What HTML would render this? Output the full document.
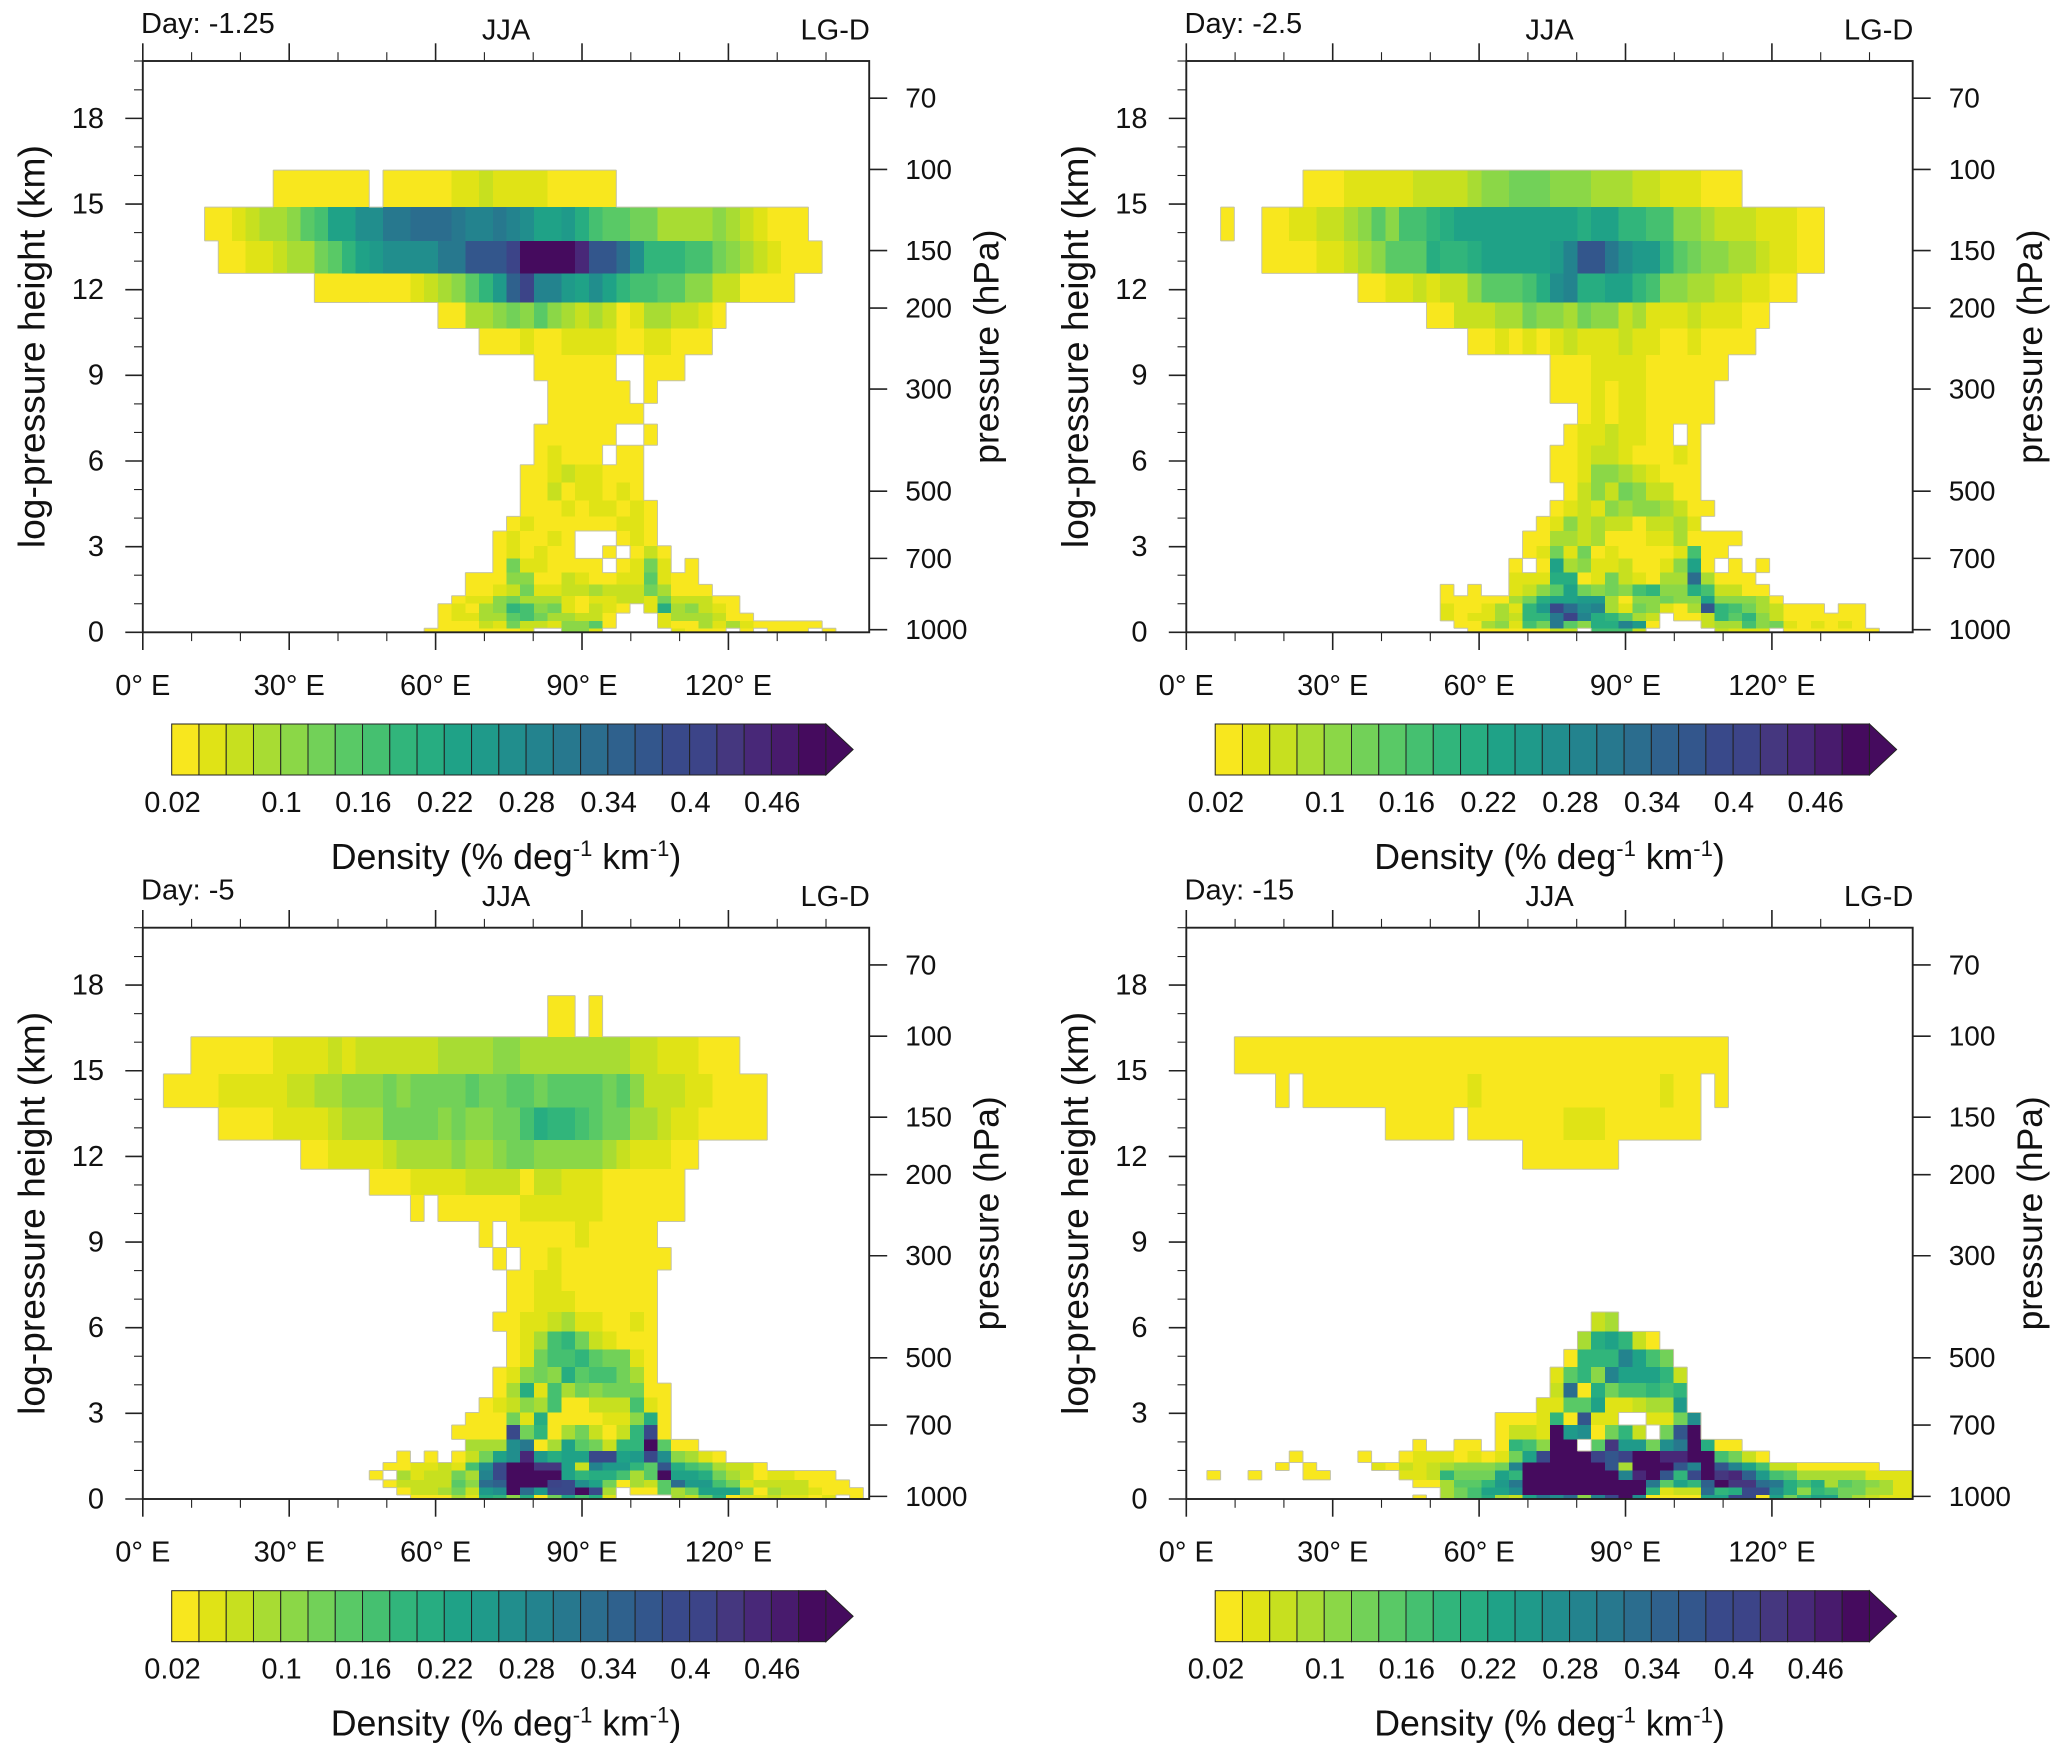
<!DOCTYPE html>
<html lang="en">
<head>
<meta charset="utf-8">
<title>Density by longitude and height, JJA</title>
<style>
html,body{margin:0;padding:0;background:#fff;}
svg{display:block;}
text{font-family:"Liberation Sans",sans-serif;fill:#111;}
</style>
</head>
<body>
<svg id="figure" xmlns="http://www.w3.org/2000/svg" width="2067" height="1756" viewBox="0 0 2067 1756"></svg>
<script>
// ---- shared categories and tick labels ----
const rowEdgesKm = [17.63,16.19,14.89,13.71,12.57,11.55,10.64,9.72,8.81,8.02,7.29,6.55,5.87,5.24,4.62,4.06,3.55,3.03,2.59,2.09,1.68,1.28,1.00,0.67,0.40,0.14,0];
const gridStepDeg = 2.8125;
const lonMajorTicks = [0,30,60,90,120];
const lonMinorTicks = [10,20,40,50,70,80,100,110,130,140];
const kmMajorTicks = [0,3,6,9,12,15,18];
const kmMinorTicks = [1,2,4,5,7,8,10,11,13,14,16,17,19];
const pressureTicks = [70,100,150,200,300,500,700,1000];
const colorbarTickValues = [0.02,0.1,0.16,0.22,0.28,0.34,0.4,0.46];
const colorbarTickLabels = ['0.02','0.1','0.16','0.22','0.28','0.34','0.4','0.46'];
const levelColors = ['#f8e71e','#e0e316','#c7e01f','#a8dc33','#8bd747','#72d158','#59c966','#45c070','#31b57b','#27ad81','#1fa287','#1f9a8a','#218e8d','#23838e','#27788e','#2b6d8e','#2f618d','#33568c','#39498a','#3c4488','#45377f','#482878','#481b6d','#450b5e'];
const panelDays = ['Day: -1.25','Day: -2.5','Day: -5','Day: -15'];

// ---- density values, in units of 0.01 % deg-1 km-1; one row per height level (top first), one entry per longitude cell ----
const densityDayM125 = [
[],
[0,0,0,0,0,0,0,0,0,0, 3,3,3,3,3,3,3,0,3,3, 3,3,3,5,5,7,5,5,5,5, 3,3,3,3,3],
[0,0,0,0,0,3,3,5,7,9, 9,11,15,17,23,23,27,27,31,31, 33,33,33,31,29,29,31,29,27,23, 23,25,21,17,15,15,13,13,9,9, 9,9,11,9,7,5,3,3,3],
[0,0,0,0,0,0,3,3,5,5, 7,9,9,13,15,19,23,25,27,27, 27,27,31,31,37,37,37,41,49,49, 49,49,45,37,37,33,27,19,19,19, 17,17,13,11,9,7,5,3,3,3],
[0,0,0,0,0,0,0,0,0,0, 0,0,0,3,3,3,3,3,3,3, 5,7,9,11,15,19,25,35,41,29, 29,25,23,27,23,19,17,17,15,15, 11,11,7,7,3,3,3,3],
[0,0,0,0,0,0,0,0,0,0, 0,0,0,0,0,0,0,0,0,0, 0,0,3,3,9,9,11,13,11,15, 11,9,7,9,7,3,5,9,9,7, 7,5,3],
[0,0,0,0,0,0,0,0,0,0, 0,0,0,0,0,0,0,0,0,0, 0,0,0,0,0,3,3,3,5,3, 3,5,5,5,5,3,3,5,5,3, 3,3],
[0,0,0,0,0,0,0,0,0,0, 0,0,0,0,0,0,0,0,0,0, 0,0,0,0,0,0,0,0,0,3, 3,3,3,3,3,0,0,3,3,3],
[0,0,0,0,0,0,0,0,0,0, 0,0,0,0,0,0,0,0,0,0, 0,0,0,0,0,0,0,0,0,0, 3,3,3,3,3,3,0,3],
[0,0,0,0,0,0,0,0,0,0, 0,0,0,0,0,0,0,0,0,0, 0,0,0,0,0,0,0,0,0,0, 3,3,3,3,3,3,3],
[0,0,0,0,0,0,0,0,0,0, 0,0,0,0,0,0,0,0,0,0, 0,0,0,0,0,0,0,0,0,3, 3,3,3,3,3,0,0,3],
[0,0,0,0,0,0,0,0,0,0, 0,0,0,0,0,0,0,0,0,0, 0,0,0,0,0,0,0,0,0,3, 5,3,3,3,0,3,3],
[0,0,0,0,0,0,0,0,0,0, 0,0,0,0,0,0,0,0,0,0, 0,0,0,0,0,0,0,0,3,3, 5,7,5,5,3,3,3],
[0,0,0,0,0,0,0,0,0,0, 0,0,0,0,0,0,0,0,0,0, 0,0,0,0,0,0,0,0,3,3, 7,3,5,5,3,5,3],
[0,0,0,0,0,0,0,0,0,0, 0,0,0,0,0,0,0,0,0,0, 0,0,0,0,0,0,0,0,3,3, 3,5,3,5,5,3,5,3],
[0,0,0,0,0,0,0,0,0,0, 0,0,0,0,0,0,0,0,0,0, 0,0,0,0,0,0,0,3,5,3, 3,3,3,3,3,5,5,3],
[0,0,0,0,0,0,0,0,0,0, 0,0,0,0,0,0,0,0,0,0, 0,0,0,0,0,0,3,5,3,3, 5,3,0,0,0,3,5,3],
[0,0,0,0,0,0,0,0,0,0, 0,0,0,0,0,0,0,0,0,0, 0,0,0,0,0,0,3,5,3,5, 3,3,0,0,3,0,3,7,3],
[0,0,0,0,0,0,0,0,0,0, 0,0,0,0,0,0,0,0,0,0, 0,0,0,0,0,0,3,13,5,5, 3,3,3,3,0,3,5,13,5,0, 3],
[0,0,0,0,0,0,0,0,0,0, 0,0,0,0,0,0,0,0,0,0, 0,0,0,0,3,3,3,11,11,3, 3,7,5,3,3,5,5,15,5,3, 3],
[0,0,0,0,0,0,0,0,0,0, 0,0,0,0,0,0,0,0,0,0, 0,0,0,0,3,3,5,7,13,5, 5,7,7,9,7,7,7,13,9,3, 3,3],
[0,0,0,0,0,0,0,0,0,0, 0,0,0,0,0,0,0,0,0,0, 0,0,0,3,5,5,11,13,9,9, 9,5,3,5,5,7,7,5,13,7, 7,7,3,3],
[0,0,0,0,0,0,0,0,0,0, 0,0,0,0,0,0,0,0,0,0, 0,0,3,5,3,9,11,19,17,11, 13,5,3,7,5,3,0,5,21,9, 11,7,5,3],
[0,0,0,0,0,0,0,0,0,0, 0,0,0,0,0,0,0,0,0,0, 0,0,3,5,5,9,9,15,17,13, 9,9,7,7,3,0,0,0,5,9, 9,9,7,3,3],
[0,0,0,0,0,0,0,0,0,0, 0,0,0,0,0,0,0,0,0,0, 0,0,3,3,3,7,5,13,7,7, 5,11,11,15,3,0,0,0,5,3, 3,9,5,9,5,3,3,3,3,3],
[0,0,0,0,0,0,0,0,0,0, 0,0,0,0,0,0,0,0,0,0, 0,3,3,3,3,3,3,3,5,0, 0,11,11,5,0,0,0,0,0,5, 3,3,3,0,3,0,3,3,3,0, 3]
];
const densityDayM25 = [
[],
[0,0,0,0,0,0,0,0,0,3, 3,3,5,5,5,5,5,7,7,7, 7,9,11,11,13,13,13,11,11,11, 9,9,9,7,7,5,5,5,3,3, 3],
[0,0,0,3,0,0,3,3,5,5, 7,7,9,11,15,11,17,17,19,21, 23,23,23,23,23,23,23,23,23,21, 23,23,19,19,17,17,11,11,9,7, 7,7,5,5,5,3,3],
[0,0,0,0,0,0,3,3,3,3, 5,5,7,9,11,15,15,15,21,19, 19,21,23,23,23,23,23,25,29,37, 37,31,27,25,25,19,15,13,11,11, 9,9,7,5,5,3,3],
[0,0,0,0,0,0,0,0,0,0, 0,0,0,3,3,5,5,7,5,7, 7,11,15,15,15,17,21,27,29,21, 21,23,23,19,17,11,11,9,9,7, 7,5,5,3,3],
[0,0,0,0,0,0,0,0,0,0, 0,0,0,0,0,0,0,0,3,3, 7,7,7,9,9,13,11,11,9,13, 11,11,7,9,5,5,5,7,5,5, 5,3,3],
[0,0,0,0,0,0,0,0,0,0, 0,0,0,0,0,0,0,0,0,0, 0,3,3,5,3,5,3,5,7,5, 5,5,7,5,5,3,3,5,3,3, 3,3],
[0,0,0,0,0,0,0,0,0,0, 0,0,0,0,0,0,0,0,0,0, 0,0,0,0,0,0,0,3,3,3, 5,5,5,5,3,3,3,3,3,3],
[0,0,0,0,0,0,0,0,0,0, 0,0,0,0,0,0,0,0,0,0, 0,0,0,0,0,0,0,3,3,3, 5,3,5,5,3,3,3,3,3],
[0,0,0,0,0,0,0,0,0,0, 0,0,0,0,0,0,0,0,0,0, 0,0,0,0,0,0,0,0,0,3, 5,3,5,5,3,3,3,3,3],
[0,0,0,0,0,0,0,0,0,0, 0,0,0,0,0,0,0,0,0,0, 0,0,0,0,0,0,0,0,3,5, 5,7,5,5,3,3,0,3],
[0,0,0,0,0,0,0,0,0,0, 0,0,0,0,0,0,0,0,0,0, 0,0,0,0,0,0,0,3,3,5, 7,7,5,3,3,3,5,3],
[0,0,0,0,0,0,0,0,0,0, 0,0,0,0,0,0,0,0,0,0, 0,0,0,0,0,0,0,3,3,5, 11,11,9,7,5,3,3,3],
[0,0,0,0,0,0,0,0,0,0, 0,0,0,0,0,0,0,0,0,0, 0,0,0,0,0,0,0,0,3,7, 11,7,13,11,7,7,3,3],
[0,0,0,0,0,0,0,0,0,0, 0,0,0,0,0,0,0,0,0,0, 0,0,0,0,0,0,0,3,5,7, 5,11,9,11,11,9,7,3,3],
[0,0,0,0,0,0,0,0,0,0, 0,0,0,0,0,0,0,0,0,0, 0,0,0,0,0,0,3,5,11,7, 9,7,7,3,7,7,9,5],
[0,0,0,0,0,0,0,0,0,0, 0,0,0,0,0,0,0,0,0,0, 0,0,0,0,0,3,3,9,9,7, 9,3,3,3,5,5,9,3,3,3, 3],
[0,0,0,0,0,0,0,0,0,0, 0,0,0,0,0,0,0,0,0,0, 0,0,0,0,0,3,5,13,5,13, 3,5,3,3,3,3,5,17,3,3],
[0,0,0,0,0,0,0,0,0,0, 0,0,0,0,0,0,0,0,0,0, 0,0,0,0,3,0,3,23,9,11, 5,5,7,3,3,5,11,23,3,0, 3,0,3],
[0,0,0,0,0,0,0,0,0,0, 0,0,0,0,0,0,0,0,0,0, 0,0,0,0,5,5,5,21,21,3, 5,13,7,5,3,9,9,33,9,3, 3,3],
[0,0,0,0,0,0,0,0,0,0, 0,0,0,0,0,0,0,0,0,3, 0,3,0,0,5,7,11,15,23,13, 11,13,11,17,19,11,11,21,17,7, 7,3,3],
[0,0,0,0,0,0,0,0,0,0, 0,0,0,0,0,0,0,0,0,3, 3,3,3,3,9,13,21,23,23,25, 25,9,3,11,11,13,11,11,23,11, 11,11,9,3],
[0,0,0,0,0,0,0,0,0,0, 0,0,0,0,0,0,0,0,0,5, 3,3,5,9,5,19,25,39,33,27, 29,9,5,13,11,5,3,9,37,19, 17,13,9,7,3,3,3,0,3,3],
[0,0,0,0,0,0,0,0,0,0, 0,0,0,0,0,0,0,0,0,5, 3,5,5,9,7,19,19,31,41,29, 21,19,15,9,7,0,3,3,7,19, 15,19,11,7,3,3,3,3,3,3],
[0,0,0,0,0,0,0,0,0,0, 0,0,0,0,0,0,0,0,0,0, 3,3,9,11,5,17,13,31,15,11, 21,21,29,25,3,0,0,0,7,9, 9,17,11,13,5,3,5,3,5,3],
[0,0,0,0,0,0,0,0,0,0, 0,0,0,0,0,0,0,0,0,0, 0,3,3,3,3,3,3,7,7,0, 17,17,17,7,0,0,0,0,0,7, 5,5,5,0,3,3,3,3,3,3, 3]
];
const densityDayM5 = [
[0,0,0,0,0,0,0,0,0,0, 0,0,0,0,0,0,0,0,0,0, 0,0,0,0,0,0,0,0,0,0, 3,3,0,3],
[0,0,0,0,3,3,3,3,3,3, 5,5,5,5,7,5,7,7,7,7, 7,7,9,9,9,9,11,11,9,9, 9,9,9,9,9,9,7,7,5,5, 5,3,3,3],
[0,0,3,3,3,3,5,5,5,5, 5,7,7,9,9,11,11,11,13,11, 13,13,13,13,15,13,13,15,15,13, 15,15,15,15,13,15,11,7,7,7, 5,5,3,3,3,3],
[0,0,0,0,0,0,3,3,3,3, 5,5,5,5,7,9,9,9,13,13, 13,13,11,13,11,11,13,13,17,21, 19,19,17,15,13,13,9,9,7,5, 5,3,3,3,3,3],
[0,0,0,0,0,0,0,0,0,0, 0,0,3,3,5,5,5,5,7,9, 9,9,9,11,9,9,11,13,13,11, 11,11,11,11,9,7,5,5,5,3, 3],
[0,0,0,0,0,0,0,0,0,0, 0,0,0,0,0,0,0,3,3,3, 5,5,5,5,7,7,7,7,3,7, 7,5,5,5,3,3,3,3,3,3],
[0,0,0,0,0,0,0,0,0,0, 0,0,0,0,0,0,0,0,0,0, 3,0,3,3,3,3,3,3,5,5, 5,5,5,5,3,3,3,3,3,3],
[0,0,0,0,0,0,0,0,0,0, 0,0,0,0,0,0,0,0,0,0, 0,0,0,0,0,3,0,3,3,3, 3,3,5,3,3,3,3,3],
[0,0,0,0,0,0,0,0,0,0, 0,0,0,0,0,0,0,0,0,0, 0,0,0,0,0,0,3,0,3,3, 5,3,3,3,3,3,3,3,3],
[0,0,0,0,0,0,0,0,0,0, 0,0,0,0,0,0,0,0,0,0, 0,0,0,0,0,0,0,3,3,5, 5,3,3,3,3,3,3,3],
[0,0,0,0,0,0,0,0,0,0, 0,0,0,0,0,0,0,0,0,0, 0,0,0,0,0,0,0,3,3,5, 5,5,3,3,3,3,3,3],
[0,0,0,0,0,0,0,0,0,0, 0,0,0,0,0,0,0,0,0,0, 0,0,0,0,0,0,3,3,5,5, 7,9,5,5,3,3,5,3],
[0,0,0,0,0,0,0,0,0,0, 0,0,0,0,0,0,0,0,0,0, 0,0,0,0,0,0,0,3,5,9, 17,19,13,7,5,3,3,3],
[0,0,0,0,0,0,0,0,0,0, 0,0,0,0,0,0,0,0,0,0, 0,0,0,0,0,0,0,3,5,13, 17,17,19,15,13,13,5,3],
[0,0,0,0,0,0,0,0,0,0, 0,0,0,0,0,0,0,0,0,0, 0,0,0,0,0,0,3,5,11,13, 11,21,15,17,17,13,9,3],
[0,0,0,0,0,0,0,0,0,0, 0,0,0,0,0,0,0,0,0,0, 0,0,0,0,0,0,3,9,21,5, 17,9,13,11,13,13,13,3,3],
[0,0,0,0,0,0,0,0,0,0, 0,0,0,0,0,0,0,0,0,0, 0,0,0,0,0,3,5,7,11,9, 17,3,3,7,7,7,17,5,3],
[0,0,0,0,0,0,0,0,0,0, 0,0,0,0,0,0,0,0,0,0, 0,0,0,0,3,3,3,13,5,21, 3,3,3,3,5,5,11,21,3],
[0,0,0,0,0,0,0,0,0,0, 0,0,0,0,0,0,0,0,0,0, 0,0,0,3,3,3,3,39,13,19, 3,9,13,7,3,7,19,39,3],
[0,0,0,0,0,0,0,0,0,0, 0,0,0,0,0,0,0,0,0,0, 0,0,0,0,9,9,9,27,31,3, 9,23,15,13,7,19,19,49,15,3, 3],
[0,0,0,0,0,0,0,0,0,0, 0,0,0,0,0,0,0,0,0,3, 0,3,0,3,7,13,23,27,45,25, 21,23,23,39,39,23,25,39,27,11, 9,5,3],
[0,0,0,0,0,0,0,0,0,0, 0,0,0,0,0,0,0,0,3,3, 5,5,7,5,17,27,39,49,49,43, 43,23,7,29,25,25,19,15,37,21, 17,15,9,7,7,3],
[0,0,0,0,0,0,0,0,0,0, 0,0,0,0,0,0,0,3,0,9, 5,7,7,13,9,29,39,49,49,49, 49,23,19,21,21,17,9,15,49,23, 23,21,13,9,7,3,5,5,3,3, 3],
[0,0,0,0,0,0,0,0,0,0, 0,0,0,0,0,0,0,0,3,7, 7,7,7,15,11,33,35,49,49,49, 41,39,27,23,13,3,9,7,15,33, 25,25,17,13,5,7,7,7,7,3, 3,3],
[0,0,0,0,0,0,0,0,0,0, 0,0,0,0,0,0,0,0,0,3, 7,7,9,13,7,25,27,49,33,25, 39,39,49,39,9,0,3,3,15,9, 13,23,23,23,11,3,9,7,7,5, 3,3,3],
[0,0,0,0,0,0,0,0,0,0, 0,0,0,0,0,0,0,0,0,0, 3,3,3,9,5,21,19,11,21,3, 13,23,17,21,5,0,0,0,0,9, 7,13,21,3,5,5,7,5,5,3, 5,0,3]
];
const densityDayM15 = [
[],
[0,0,0,0,3,3,3,3,3,3, 3,3,3,3,3,3,3,3,3,3, 3,3,3,3,3,3,3,3,3,3, 3,3,3,3,3,3,3,3,3,3],
[0,0,0,0,0,0,0,3,0,3, 3,3,3,3,3,3,3,3,3,3, 3,5,3,3,3,3,3,3,3,3, 3,3,3,3,3,5,3,3,0,3],
[0,0,0,0,0,0,0,0,0,0, 0,0,0,0,0,3,3,3,3,3, 0,3,3,3,3,3,3,3,5,5, 5,3,3,3,3,3,3,3],
[0,0,0,0,0,0,0,0,0,0, 0,0,0,0,0,0,0,0,0,0, 0,0,0,0,0,3,3,3,3,3, 3,3],
[],
[],
[],
[],
[],
[],
[0,0,0,0,0,0,0,0,0,0, 0,0,0,0,0,0,0,0,0,0, 0,0,0,0,0,0,0,0,0,0, 7,9],
[0,0,0,0,0,0,0,0,0,0, 0,0,0,0,0,0,0,0,0,0, 0,0,0,0,0,0,0,0,0,9, 21,23,19,7,3],
[0,0,0,0,0,0,0,0,0,0, 0,0,0,0,0,0,0,0,0,0, 0,0,0,0,0,0,0,0,3,19, 19,19,29,23,17,13],
[0,0,0,0,0,0,0,0,0,0, 0,0,0,0,0,0,0,0,0,0, 0,0,0,0,0,0,0,5,15,19, 11,29,23,23,23,19,7],
[0,0,0,0,0,0,0,0,0,0, 0,0,0,0,0,0,0,0,0,0, 0,0,0,0,0,0,0,7,33,3, 21,13,17,17,19,17,19],
[0,0,0,0,0,0,0,0,0,0, 0,0,0,0,0,0,0,0,0,0, 0,0,0,0,0,0,5,5,15,15, 23,5,5,7,9,9,25],
[0,0,0,0,0,0,0,0,0,0, 0,0,0,0,0,0,0,0,0,0, 0,0,0,3,3,3,5,19,3,37, 5,5,0,0,5,5,13,27],
[0,0,0,0,0,0,0,0,0,0, 0,0,0,0,0,0,0,0,0,0, 0,0,0,3,7,7,5,49,25,27, 3,13,19,7,0,13,37,49],
[0,0,0,0,0,0,0,0,0,0, 0,0,0,0,0,0,0,3,0,0, 3,3,0,3,19,17,11,49,49,0, 15,43,25,25,13,27,31,49,21,3, 3],
[0,0,0,0,0,0,0,0,3,0, 0,0,0,3,0,0,3,5,5,5, 3,5,3,5,13,23,39,49,49,49, 41,37,41,49,49,45,45,49,49,17, 13,7,3],
[0,0,0,0,0,0,0,3,0,3, 0,0,0,0,5,3,7,5,7,9, 11,11,11,13,29,49,49,49,49,49, 49,37,9,49,49,49,37,29,49,37, 29,23,17,7,7,3,3,3,3,3, 3],
[0,0,3,0,0,3,0,0,0,3, 3,0,0,0,0,0,5,5,7,19, 13,13,13,23,19,49,49,49,49,49, 49,49,29,45,49,37,19,39,49,43, 45,35,25,17,15,9,9,9,9,9, 5,5,5,5],
[0,0,0,0,0,0,0,0,0,0, 0,0,0,0,0,0,0,3,3,9, 15,15,19,25,31,49,49,49,49,49, 49,49,49,49,31,15,23,19,35,49, 43,43,33,31,21,17,21,9,15,13, 11,9,5,5],
[0,0,0,0,0,0,0,0,0,0, 0,0,0,0,0,0,0,0,0,9, 13,17,23,23,27,49,49,49,49,49, 49,49,49,49,19,5,7,7,33,19, 21,39,39,27,21,11,19,17,13,13, 9,9,5,5],
[0,0,0,0,0,0,0,0,0,0, 0,0,0,0,0,0,0,3,0,9, 13,17,21,9,7,23,31,27,33,11, 29,39,49,27,3,3,3,3,23,23, 39,39,3,23,13,19,23,23,13,9, 7,5,5,5]
];
const panelSeries = [densityDayM125, densityDayM25, densityDayM5, densityDayM15];

// ---- figure geometry and axis functions ----
const NS = 'http://www.w3.org/2000/svg';
const svg = document.getElementById('figure');
const plotW = 726.4, plotH = 571.3;
const originX = [142.8, 1186.3, 142.8, 1186.3];
const originY = [61, 61, 927.7, 927.7];
const lonMax = 148.85, kmMax = 20.01;
const scaleHeightKm = 7, surfaceHPa = 1013.25;
const levelStep = 0.02, levelMin = 0.02, densityUnit = 0.01;

function xScale(lon){ return lon / lonMax * plotW; }
function yScale(km){ return plotH - km / kmMax * plotH; }
function kmFromPressure(p){ return scaleHeightKm * Math.log(surfaceHPa / p); }
function levelIndex(value){ return Math.min(levelColors.length - 1, Math.floor((value * densityUnit - levelMin) / levelStep + 1e-9)); }
function cbScale(value){ return (value - levelMin) / levelStep * 27.26; }

function make(parent, tag, attrs, txt){
  const el = document.createElementNS(NS, tag);
  for (const k in attrs) el.setAttribute(k, attrs[k]);
  if (txt !== undefined) el.textContent = txt;
  parent.appendChild(el);
  return el;
}
function tickLine(parent, x1, y1, x2, y2, w){
  const el = make(parent, 'line', {x1:x1, y1:y1, x2:x2, y2:y2, stroke:'#222', 'stroke-width':w});
  
  
  return el;
}
function label(parent, x, y, size, anchor, txt, name, rotate){
  const attrs = {x:x, y:y, 'font-size':size, 'text-anchor':anchor};
  if (rotate) attrs.transform = 'rotate(-90 ' + x + ' ' + y + ')';
  const el = make(parent, 'text', attrs, txt);
  
  
  return el;
}

function isFilled(data, r, c){
  if (r < 0 || r >= data.length) return false;
  const v = data[r][c];
  return v !== undefined && v * densityUnit >= levelMin;
}

function drawPanel(p){
  const data = panelSeries[p];
  const g = make(svg, 'g', {transform:'translate(' + originX[p] + ' ' + originY[p] + ')'});
  
  

  const clip = make(g, 'clipPath', {id:'plot-clip-' + p});
  make(clip, 'rect', {x:0, y:0, width:plotW, height:plotH});

  const cells = make(g, 'g', {'clip-path':'url(#plot-clip-' + p + ')', 'shape-rendering':'crispEdges'});
  
  
  let outline = '';
  const colCount = Math.ceil(lonMax / gridStepDeg) + 2;
  for (let r = 0; r < data.length; r++){
    const yTop = yScale(rowEdgesKm[r]), yBot = yScale(rowEdgesKm[r + 1]);
    for (let c = 0; c < colCount; c++){
      if (!isFilled(data, r, c)) continue;
      const xL = xScale((c - 0.5) * gridStepDeg), xR = xScale((c + 0.5) * gridStepDeg);
      const cell = make(cells, 'rect', {x:xL, y:yTop, width:xR - xL, height:yBot - yTop, fill:levelColors[levelIndex(data[r][c])]});
      
      
      if (!isFilled(data, r - 1, c)) outline += 'M' + xL + ' ' + yTop + 'H' + xR;
      if (!isFilled(data, r + 1, c)) outline += 'M' + xL + ' ' + yBot + 'H' + xR;
      if (!isFilled(data, r, c - 1)) outline += 'M' + xL + ' ' + yTop + 'V' + yBot;
      if (!isFilled(data, r, c + 1)) outline += 'M' + xR + ' ' + yTop + 'V' + yBot;
    }
  }
  const edge = make(g, 'path', {d:outline, fill:'none', stroke:'#c4c4a8', 'stroke-width':1, 'clip-path':'url(#plot-clip-' + p + ')'});
  
  

  // ticks
  lonMajorTicks.forEach(function(v){
    const x = xScale(v);
    tickLine(g, x, plotH, x, plotH + 17.7, 1.6);
    tickLine(g, x, 0, x, -17.7, 1.6);
    label(g, x, plotH + 62.7, 29, 'middle', v + '\u00b0 E', 'x-tick-label');
  });
  lonMinorTicks.forEach(function(v){
    const x = xScale(v);
    tickLine(g, x, plotH, x, plotH + 8.8, 1.1);
    tickLine(g, x, 0, x, -8.8, 1.1);
  });
  kmMajorTicks.forEach(function(v){
    const y = yScale(v);
    tickLine(g, 0, y, -17.5, y, 1.6);
    label(g, -38.8, y + 9.4, 29, 'end', String(v), 'y-tick-label');
  });
  tickLine(g, 0, 0, -8.8, 0, 1.1);
  kmMinorTicks.forEach(function(v){
    tickLine(g, 0, yScale(v), -8.8, yScale(v), 1.1);
  });
  pressureTicks.forEach(function(v){
    const y = yScale(kmFromPressure(v));
    tickLine(g, plotW, y, plotW + 18, y, 1.6);
    label(g, plotW + 36, y + 9.4, 28, 'start', String(v), 'pressure-tick-label');
  });

  // frame
  const frame = make(g, 'rect', {x:0, y:0, width:plotW, height:plotH, fill:'none', stroke:'#222', 'stroke-width':1.9});
  
  

  // titles
  label(g, -1.8, -28, 29, 'start', panelDays[p], 'day-label');
  label(g, plotW / 2, -21.7, 29, 'middle', 'JJA', 'season-label');
  label(g, plotW + 0.6, -21.7, 29, 'end', 'LG-D', 'dataset-label');
  label(g, -98.5, plotH / 2, 37.2, 'middle', 'log-pressure height (km)', 'y-axis-title', true);
  label(g, plotW + 129.5, plotH / 2, 35.4, 'middle', 'pressure (hPa)', 'pressure-axis-title', true);

  // colorbar
  const bar = make(g, 'g', {transform:'translate(28.9 663)'});
  
  
  levelColors.forEach(function(col, i){
    const box = make(bar, 'rect', {x:cbScale(levelMin + i * levelStep), y:0, width:27.26, height:51, fill:col, stroke:'#222', 'stroke-width':1});
    
    
  });
  const endX = cbScale(levelMin + levelColors.length * levelStep);
  const arrow = make(bar, 'polygon', {points:endX + ',0 ' + (endX + 27.2) + ',25.5 ' + endX + ',51', fill:levelColors[levelColors.length - 1], stroke:'#222', 'stroke-width':1});
  
  
  colorbarTickValues.forEach(function(v, i){
    label(bar, cbScale(v) + 0.8, 88, 29, 'middle', colorbarTickLabels[i], 'colorbar-tick-label');
  });

  const title = make(g, 'text', {x:plotW / 2, y:808, 'font-size':35.7, 'text-anchor':'middle'});
  
  
  make(title, 'tspan', {}, 'Density (% deg');
  make(title, 'tspan', {'font-size':22, dy:-13}, '-1');
  make(title, 'tspan', {dy:13}, ' km');
  make(title, 'tspan', {'font-size':22, dy:-13}, '-1');
  make(title, 'tspan', {dy:13}, ')');
}

for (let p = 0; p < panelSeries.length; p++) drawPanel(p);
</script>
</body>
</html>
